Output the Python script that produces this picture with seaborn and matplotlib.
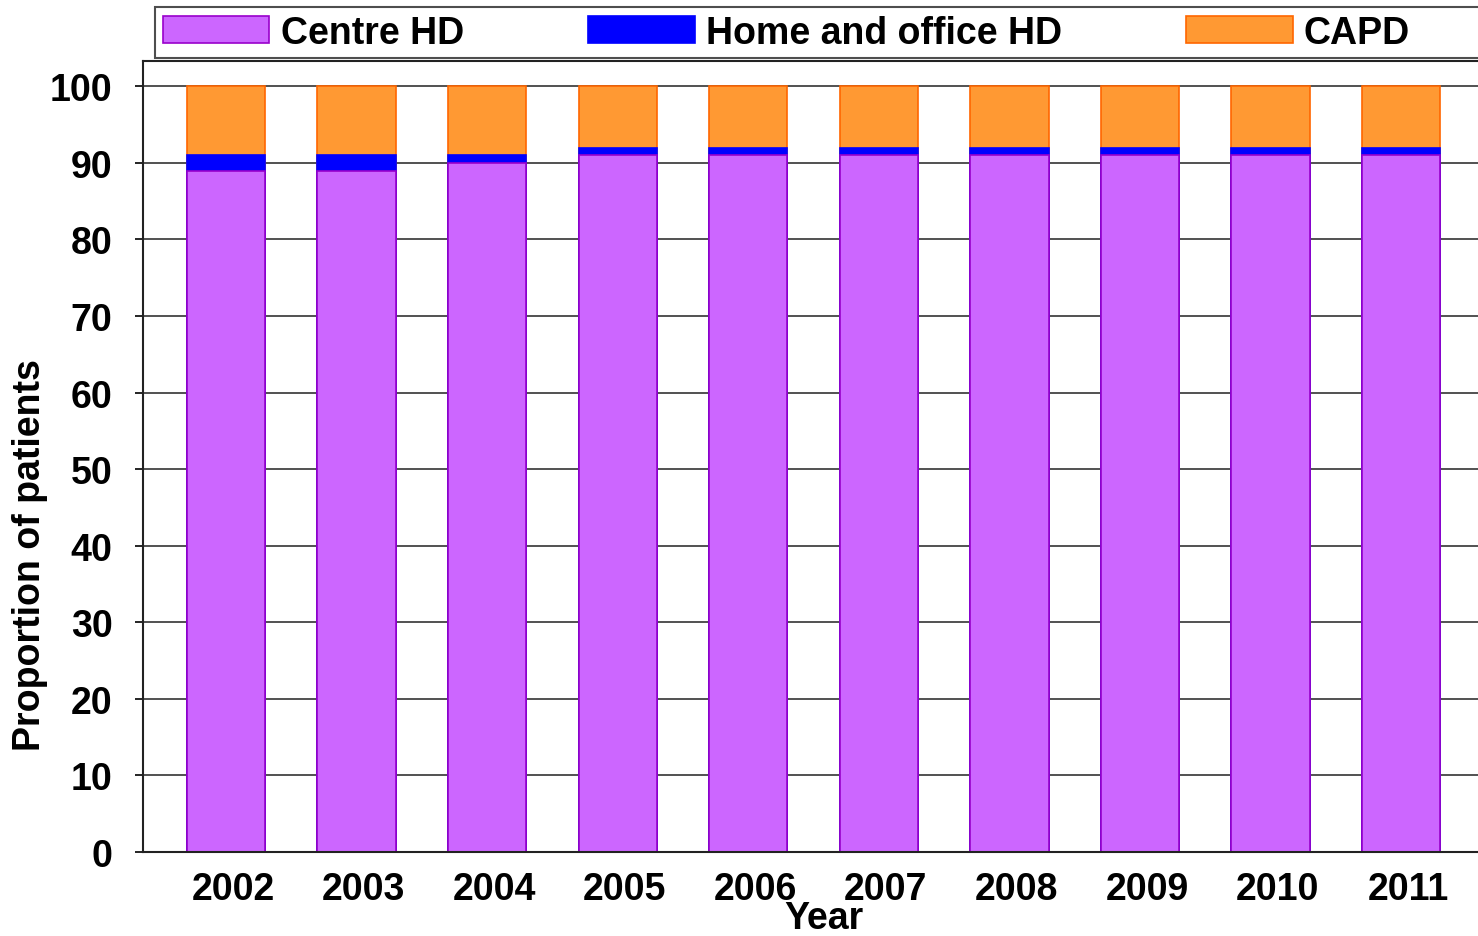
import numpy as np
import pandas as pd
import matplotlib
matplotlib.use("Agg")
import matplotlib.pyplot as plt
import matplotlib.transforms as mtransforms
import seaborn as sns
from matplotlib.patches import Patch

years = ['2002', '2003', '2004', '2005', '2006', '2007', '2008', '2009', '2010', '2011']
centre_hd = [89, 89, 90, 91, 91, 91, 91, 91, 91, 91]
home_hd = [2, 2, 1, 1, 1, 1, 1, 1, 1, 1]
capd = [9, 9, 9, 8, 8, 8, 8, 8, 8, 8]

series = ['Centre HD', 'Home and office HD', 'CAPD']
face = ['#CC66FF', '#0000FF', '#FF9933']
edge = ['#9900CC', '#0000FF', '#FF6600']

df = pd.DataFrame({'Year': years, 'Centre HD': centre_hd,
                   'Home and office HD': home_hd, 'CAPD': capd})
# cumulative tops for stacking
df['top_centre'] = df['Centre HD']
df['top_home'] = df['Centre HD'] + df['Home and office HD']
df['top_capd'] = df['top_home'] + df['CAPD']

sns.set_style('white')
plt.rcParams['font.family'] = ['Liberation Sans', 'DejaVu Sans']
plt.rcParams['font.weight'] = 'bold'
for k in ['text.color', 'axes.labelcolor', 'xtick.color', 'ytick.color']:
    plt.rcParams[k] = 'black'
FS = 27

fig = plt.figure(figsize=(14.78, 9.37), dpi=100)
ax = fig.add_axes([0.0968, 0.0896, 0.9032, 0.8442])

# draw from the top layer down so lower layers cover the upper ones
for col, fc, ec in zip(['top_capd', 'top_home', 'top_centre'], face[::-1], edge[::-1]):
    sns.barplot(data=df, x='Year', y=col, color=fc, saturation=1, width=0.6,
                edgecolor=ec, linewidth=1.2, ax=ax, zorder=2)

ax.set_xlim(-0.636, 9.59)
ax.set_ylim(0, 103.3)
ax.set_yticks(np.arange(0, 101, 10))
ax.yaxis.grid(True, color='#333333', linewidth=1.2, zorder=0)
ax.set_axisbelow(True)
for s in ['left', 'top', 'bottom']:
    ax.spines[s].set_color('#222222')
    ax.spines[s].set_linewidth(1.5)
ax.spines['right'].set_visible(False)

ax.tick_params(axis='y', which='major', left=True, length=6, width=1.2, pad=16,
               labelsize=FS, colors='black')
ax.tick_params(axis='x', bottom=False, pad=10, labelsize=FS, colors='black')
shift = mtransforms.ScaledTranslation(7 / 100, 0, fig.dpi_scale_trans)
for lab in ax.get_xticklabels():
    lab.set_fontweight('bold')
    lab.set_transform(lab.get_transform() + shift)
for lab in ax.get_yticklabels():
    lab.set_fontweight('bold')

ax.set_xlabel('Year', fontsize=FS, fontweight='bold', va='center', color='black')
ax.xaxis.set_label_coords(0.51, -0.083)
ax.set_ylabel('Proportion of patients', fontsize=FS, fontweight='bold', va='center',
              color='black')
ax.yaxis.set_label_coords(-0.085, 0.377)

handles = [Patch(facecolor=f, edgecolor=e, linewidth=1.2) for f, e in zip(face, edge)]
# blank 4th column so the legend box runs off the right edge like the original
handles.append(Patch(facecolor='none', edgecolor='none'))
labels = series + ['']
leg = fig.legend(handles, labels, loc='upper left', ncol=4,
                 bbox_to_anchor=(155 / 1478, 1 - 8 / 937), frameon=True,
                 fancybox=False, handlelength=2.85, handleheight=0.72,
                 borderpad=0.2, handletextpad=0.3, borderaxespad=0, columnspacing=3.3,
                 prop={'weight': 'bold', 'size': FS})
leg.get_frame().set_edgecolor('#222222')
leg.get_frame().set_linewidth(1.5)

fig.savefig('out.png', dpi=100)
